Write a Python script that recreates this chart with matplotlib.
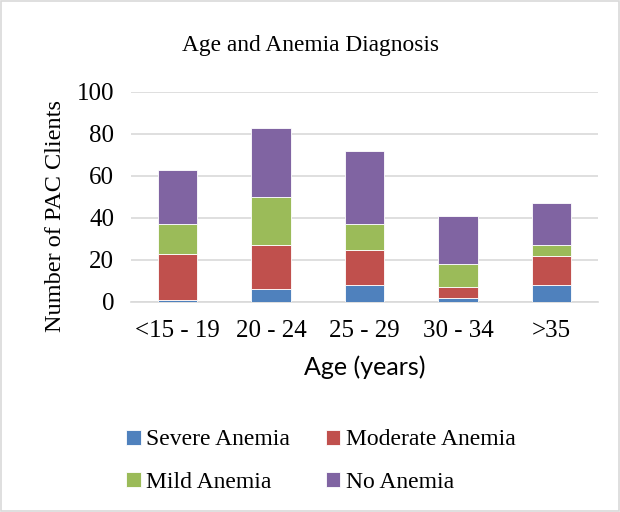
import matplotlib
matplotlib.use("Agg")
import matplotlib.pyplot as plt
from matplotlib.patches import Rectangle
import numpy as np

categories = ["<15 - 19", "20 - 24", "25 - 29", "30 - 34", ">35"]
severe = [1, 6, 8, 2, 8]
moderate = [22, 21, 17, 5, 14]
mild = [14, 23, 12, 11, 5]
no_anemia = [26, 33, 35, 23, 20]
series_names = ["Severe Anemia", "Moderate Anemia", "Mild Anemia", "No Anemia"]
colors = ["#4F81BD", "#C0504D", "#9BBB59", "#8064A2"]

serif = ["Liberation Serif", "DejaVu Serif"]
sans = ["Lato", "Liberation Sans", "DejaVu Sans"]

fig = plt.figure(figsize=(6.2, 5.12), dpi=100)
ax = fig.add_axes([131/620, 1-302/512, (598-131)/620, (302-92)/512])

x = np.arange(len(categories))
bottom = np.zeros(len(categories))
handles = []
for name, vals, c in zip(series_names, [severe, moderate, mild, no_anemia], colors):
    h = ax.bar(x, vals, width=0.42, bottom=bottom, color=c, edgecolor="white", linewidth=0.6, label=name, zorder=3)
    handles.append(h)
    bottom += np.array(vals)

ax.set_xlim(-0.5, 4.5)
ax.set_ylim(0, 100)
ax.set_yticks(range(0, 101, 20))
ax.grid(axis="y", color="#d9d9d9", linewidth=1.2, zorder=0)
for s in ["top", "right", "left"]:
    ax.spines[s].set_visible(False)
ax.spines["bottom"].set_color("#d9d9d9")
ax.spines["bottom"].set_linewidth(1.2)
ax.tick_params(axis="both", length=0, labelsize=18)
ax.tick_params(axis="x", pad=13)
ax.tick_params(axis="y", pad=12)
ax.set_xticks(x)
ax.set_xticklabels(categories, fontfamily=serif)
for lab in ax.get_yticklabels():
    lab.set_fontfamily(serif)
ax.set_ylabel("Number of PAC Clients", fontfamily=serif, fontsize=17.5)
ax.yaxis.set_label_coords(-0.139, 0.41)
ax.set_xlabel("Age (years)", fontfamily=sans, fontsize=18)
ax.xaxis.set_label_coords(0.5, -0.255)

fig.text(0.5, 1-45/512, "Age and Anemia Diagnosis", ha="center", va="center", fontfamily=serif, fontsize=16.8)

order = [0, 2, 1, 3]
leg = fig.legend(handles=[handles[i] for i in order], labels=[series_names[i] for i in order],
                 loc="center", bbox_to_anchor=(321/620, 1-461/512),
                 ncol=2, frameon=False, prop={"family": serif, "size": 17},
                 handlelength=0.6, handleheight=0.6, handletextpad=0.25, columnspacing=1.5, labelspacing=0.9)

fig.patches.append(Rectangle((0.002, 0.002), 0.996, 0.996, transform=fig.transFigure,
                             fill=False, edgecolor="#d9d9d9", linewidth=1.2))

fig.savefig("out.png", dpi=100)
